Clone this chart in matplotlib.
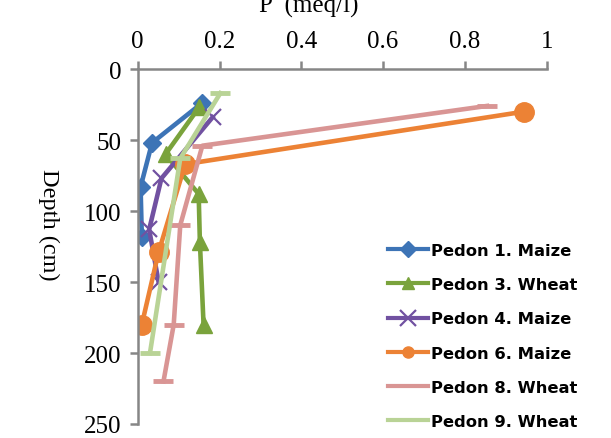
import numpy as np
import matplotlib
matplotlib.use('Agg')
import matplotlib.pyplot as plt

# P concentration (meq/l) against depth (cm) for each pedon
p1_p = [0.157, 0.035, 0.007, 0.01]
p1_d = [24, 52, 83, 118]

p3_p = [0.15, 0.068, 0.149, 0.152, 0.161]
p3_d = [27, 60, 88, 122, 180]

p4_p = [0.183, 0.058, 0.028, 0.051]
p4_d = [34, 77, 113, 150]

p6_p = [0.945, 0.116, 0.051, 0.01]
p6_d = [30, 67, 129, 180]

p8_p = [0.854, 0.158, 0.104, 0.088, 0.063]
p8_d = [26, 54, 110, 180, 220]

p9_p = [0.202, 0.104, 0.03]
p9_d = [17, 63, 200]

x_ticks = [0, 0.2, 0.4, 0.6, 0.8, 1]
x_tick_labels = ['0', '0.2', '0.4', '0.6', '0.8', '1']
y_ticks = [0, 50, 100, 150, 200, 250]

fig = plt.figure(figsize=(6.11, 4.39), dpi=100)
ax = fig.add_axes([0.2254, 0.0319, 0.6694, 0.8086])

lw = 3.3
ax.plot(p1_p, p1_d, color='#3d74b6', lw=lw, marker='D', ms=9, label='Pedon 1. Maize')
ax.plot(p3_p, p3_d, color='#7aa33c', lw=lw, marker='^', ms=11, label='Pedon 3. Wheat')
ax.plot(p4_p, p4_d, color='#7151a1', lw=lw, marker='x', ms=11, mew=1.6, label='Pedon 4. Maize')
ax.plot(p6_p, p6_d, color='#ec8235', lw=lw, marker='o', ms=14, label='Pedon 6. Maize')
ax.plot(p8_p, p8_d, color='#d99594', lw=lw, marker='_', ms=14, mew=3.5, label='Pedon 8. Wheat')
ax.plot(p9_p, p9_d, color='#b9d396', lw=lw, marker='_', ms=14, mew=3.5, label='Pedon 9. Wheat')

ax.set_xlim(0, 1)
ax.set_ylim(250, 0)
ax.xaxis.tick_top()
ax.set_xticks(x_ticks)
ax.set_xticklabels(x_tick_labels)
ax.set_yticks(y_ticks)

for s in ['right', 'bottom']:
    ax.spines[s].set_visible(False)
for s in ['left', 'top']:
    ax.spines[s].set_color('#868686')
    ax.spines[s].set_linewidth(1.8)
ax.tick_params(axis='both', color='#868686', width=1.8, length=6,
               labelsize=18, pad=6)
for lab in ax.get_xticklabels() + ax.get_yticklabels():
    lab.set_family('Liberation Serif')

ax.set_ylabel('Depth (cm)', family='Liberation Serif', fontsize=17.5,
              rotation=270)
ax.yaxis.set_label_coords(-0.245, 0.565)

fig.text(0.505, 1 - 13 / 439, 'P  (meq/l)', ha='center', va='baseline',
         family='Liberation Serif', fontsize=18)

leg = ax.legend(loc='upper left', bbox_to_anchor=(388 / 611, 1 - 244 / 439),
                bbox_transform=fig.transFigure, frameon=False,
                prop={'family': 'DejaVu Sans', 'weight': 'bold', 'size': 11.8},
                handlelength=2.45, handletextpad=0.15, labelspacing=1.17,
                borderaxespad=0, borderpad=0)
for h in leg.legend_handles:
    h.set_linewidth(3)
    if h.get_marker() in ('D', '^', 'o'):
        h.set_markersize(8)
    if h.get_marker() == '_':
        h.set_marker('None')

fig.savefig('out.png', dpi=100)
